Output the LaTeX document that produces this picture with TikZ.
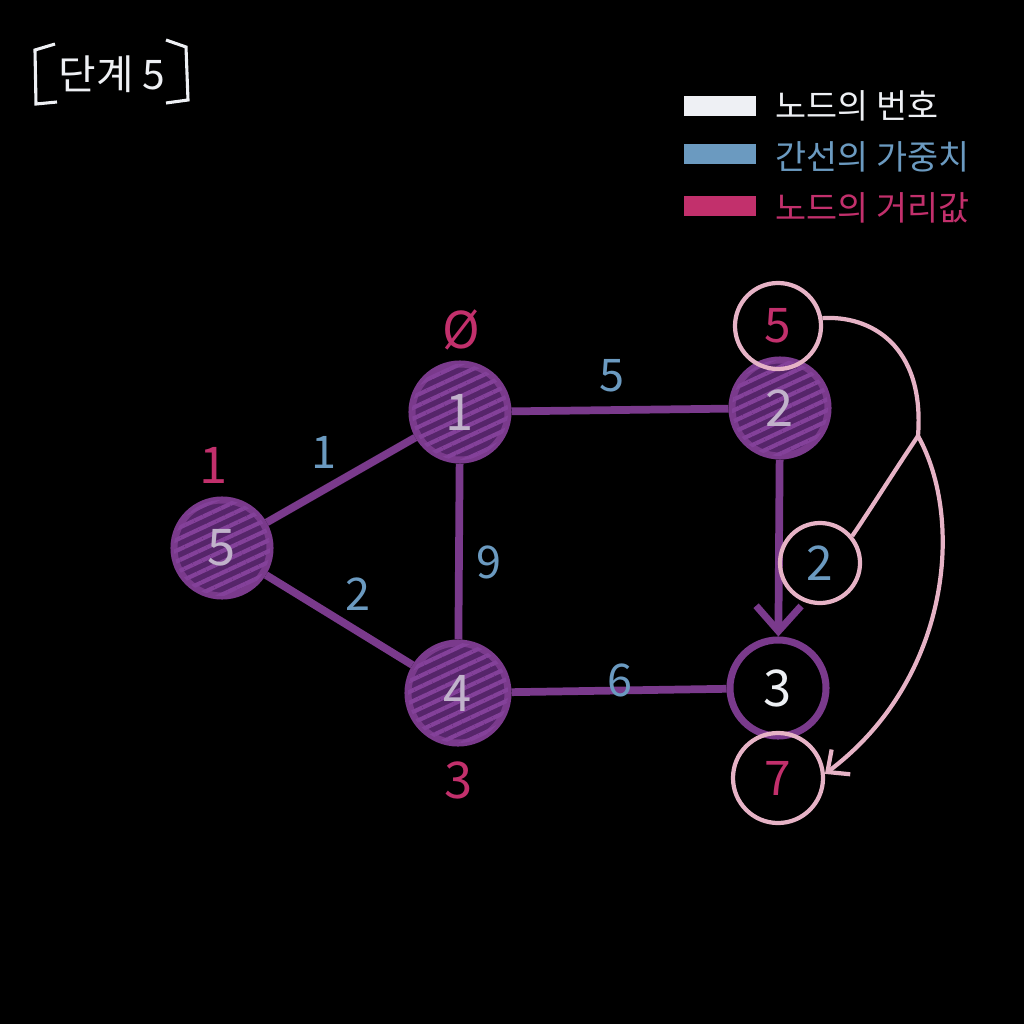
\documentclass[tikz,border=0pt]{standalone}
\usepackage{fontspec}
\setmainfont{Noto Sans CJK KR}
\usetikzlibrary{arrows.meta,patterns.meta}
\definecolor{chalkpurple}{HTML}{7A3A8C}
\definecolor{hatchpurple}{HTML}{56256A}
\definecolor{hatchline}{HTML}{84419A}
\definecolor{chalkpink}{HTML}{E6B3C6}
\definecolor{chalkred}{HTML}{C2306C}
\definecolor{chalkblue}{HTML}{6B9AC0}
\definecolor{chalkwhite}{HTML}{EEF0F4}
\tikzset{
  x=0.025cm, y=-0.025cm,
  gnode/.style={circle, draw=chalkpurple, line width=5pt, minimum size=2.4cm, inner sep=0pt,
    text=chalkwhite, font=\fontsize{36}{36}\selectfont},
  hatched/.style={fill=hatchpurple, postaction={pattern={Lines[angle=25,distance=7pt,line width=3pt]}, pattern color=hatchline},
    text=chalkwhite!70!hatchpurple},
  edge/.style={draw=chalkpurple, line width=5.5pt},
  pinkcirc/.style={circle, draw=chalkpink, line width=3pt, inner sep=0pt, font=\fontsize{34}{34}\selectfont},
  pinkline/.style={draw=chalkpink, line width=3pt},
  distlab/.style={text=chalkred, font=\fontsize{36}{36}\selectfont, inner sep=0pt},
  wlab/.style={text=chalkblue, font=\fontsize{32}{32}\selectfont, inner sep=0pt},
  legtext/.style={anchor=west, inner sep=0pt, font=\fontsize{24}{24}\selectfont},
  swatch/.style={minimum width=1.8cm, minimum height=0.5cm, inner sep=0pt}
}
\begin{document}
\begin{tikzpicture}
\fill[black] (0,0) rectangle (1024,1024);
\useasboundingbox (0,0) rectangle (1024,1024);

% title
\node[text=chalkwhite, font=\fontsize{29}{29}\selectfont, inner sep=0pt] (title) at (112,74) {단계 5};
\draw[chalkwhite, line width=2.2pt] (55,44) -- (35,50) -- (36,104) -- (57,102);
\draw[chalkwhite, line width=2.2pt] (166,40) -- (186,47) -- (188,100) -- (166,103);

% legend
\node[swatch, fill=chalkwhite] (sw1) at (720,106) {};
\node[swatch, fill=chalkblue] (sw2) at (720,154) {};
\node[swatch, fill=chalkred] (sw3) at (720,206) {};
\node[legtext, text=chalkwhite] (lg1) at (775,106) {노드의 번호};
\node[legtext, text=chalkblue] (lg2) at (775,157) {간선의 가중치};
\node[legtext, text=chalkred] (lg3) at (775,208) {노드의 거리값};

% nodes
\node[gnode, hatched] (n1) at (460,412) {1};
\node[gnode, hatched] (n2) at (780,408) {2};
\node[gnode, hatched] (n5) at (222,548) {5};
\node[gnode, hatched, minimum size=2.5cm] (n4) at (458,693) {4};
\node[gnode] (n3) at (778,688) {3};

% edges
\draw[edge] (n5) -- (n1);
\draw[edge] (n5) -- (n4);
\draw[edge] (n1) -- (n2);
\draw[edge] (n1) -- (n4);
\draw[edge] (n4) -- (n3);
\draw[edge, -{Straight Barb[length=18pt, width=32pt, line width=5pt]}] (n2) -- (n3);

% weights
\node[wlab] (w51) at (324,452) {1};
\node[wlab] (w54) at (358,594) {2};
\node[wlab] (w12) at (612,376) {5};
\node[wlab] (w14) at (489,562) {9};
\node[wlab] (w43) at (620,680) {6};

% distances
\node[distlab] (d1) at (461,330) {Ø};
\node[distlab] (d5) at (214,465) {1};
\node[distlab] (d4) at (459,780) {3};

% pink circles
\node[pinkcirc, minimum size=2.15cm, text=chalkred] (c5) at (778,326) {5};
\node[pinkcirc, minimum size=2.0cm, text=chalkblue] (cw) at (820,563) {2};
\node[pinkcirc, minimum size=2.25cm, text=chalkred] (c7) at (778,778) {7};

\coordinate (J) at (918,436);
\draw[pinkline] (c5.10) .. controls (870,315) and (925,345) .. (J);
\draw[pinkline] (J) .. controls (895,470) and (870,510) .. (cw.40);
\draw[pinkline, -{Straight Barb[length=12pt, width=22pt, line width=3pt]}] (J) .. controls (965,520) and (950,680) .. (c7.5);
\end{tikzpicture}
\end{document}
